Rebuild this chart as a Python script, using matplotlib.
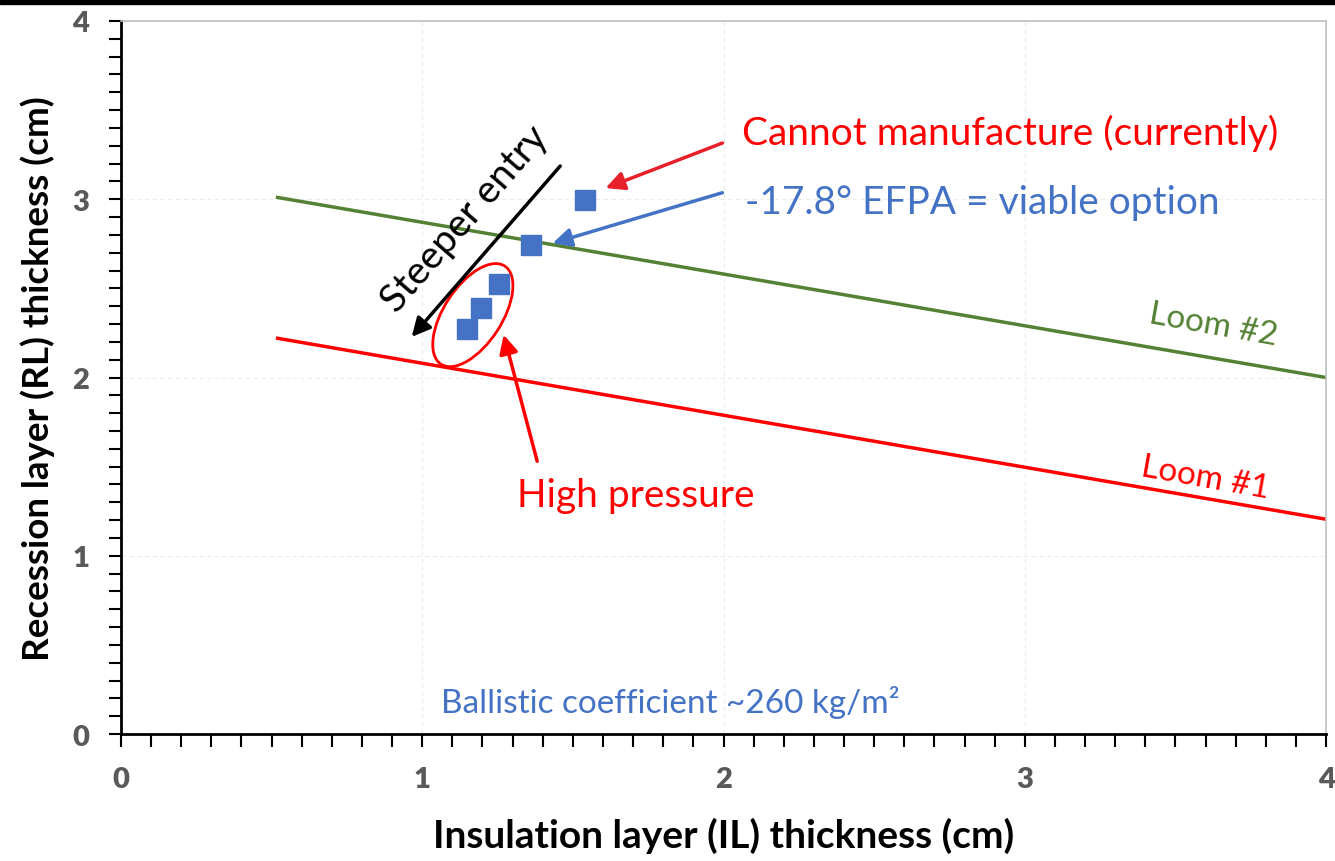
import matplotlib
matplotlib.use("Agg")
import matplotlib.pyplot as plt
from matplotlib.patches import Ellipse, Rectangle
from matplotlib.transforms import ScaledTranslation
from matplotlib.ticker import MultipleLocator

plt.rcParams['font.family'] = ['Lato', 'DejaVu Sans']

# Design points (IL thickness, RL thickness)
il_pts = [1.54, 1.36, 1.255, 1.195, 1.147]
rl_pts = [2.995, 2.743, 2.525, 2.39, 2.272]

# Loom limits
loom_x = [0.52, 4.0]
loom1_y = [2.22, 1.205]
loom2_y = [3.01, 2.0]

BLUE = '#4472C4'
RED = '#FF0000'
GREEN = '#548235'

fig = plt.figure(figsize=(13.35, 8.62), dpi=100)
ax = fig.add_axes([0.0906, 0.1473, 0.9027, 0.8272])

ax.plot(loom_x, loom2_y, color=GREEN, lw=2.5)
ax.plot(loom_x, loom1_y, color=RED, lw=2.5)
ax.plot(il_pts, rl_pts, 's', color=BLUE, ms=15, mec=BLUE)

ax.set_xlim(0, 4)
ax.set_ylim(0, 4)
ax.xaxis.set_major_locator(MultipleLocator(1))
ax.yaxis.set_major_locator(MultipleLocator(1))
ax.xaxis.set_minor_locator(MultipleLocator(0.1))
ax.yaxis.set_minor_locator(MultipleLocator(0.1))
ax.tick_params(which='both', direction='out', length=9, width=1.5, color='black')
ax.tick_params(which='major', labelsize=21, labelcolor='#595959', pad=14)
for lab in ax.get_xticklabels() + ax.get_yticklabels():
    lab.set_fontweight('heavy')
ax.grid(True, which='major', color='#ececec', lw=0.8, ls=(0, (4, 3)))

for s in ['left', 'bottom']:
    ax.spines[s].set_linewidth(2)
    ax.spines[s].set_color('black')
for s in ['top', 'right']:
    ax.spines[s].set_linewidth(1.2)
    ax.spines[s].set_color('#bfbfbf')

ax.set_xlabel('Insulation layer (IL) thickness (cm)', fontsize=28, fontweight='bold', labelpad=18)
ax.set_ylabel('Recession layer (RL) thickness (cm)', fontsize=26.5, fontweight='bold', labelpad=12)

# annotations
ax.text(2.951, 3.377, 'Cannot manufacture (currently)', color=RED, fontsize=28,
        ha='center', va='center')
ax.annotate('', xy=(1.60, 3.057), xytext=(2.005, 3.321),
            arrowprops=dict(arrowstyle='-|>', color='#E8202A', lw=2.5, mutation_scale=28))
ax.text(2.071, 2.985, '-17.8° EFPA = viable option', color=BLUE, fontsize=28,
        ha='left', va='center')
ax.annotate('', xy=(1.424, 2.749), xytext=(2.005, 3.041),
            arrowprops=dict(arrowstyle='-|>', color=BLUE, lw=2.5, mutation_scale=28))
ax.text(1.14, 2.895, 'Steeper entry', color='black', fontsize=28, rotation=49,
        ha='center', va='center', rotation_mode='anchor')
ax.annotate('', xy=(0.959, 2.216), xytext=(1.464, 3.198),
            arrowprops=dict(arrowstyle='-|>', color='black', lw=2.5, mutation_scale=28))
ax.text(1.71, 1.341, 'High pressure', color=RED, fontsize=28, ha='center', va='center')
ax.annotate('', xy=(1.268, 2.255), xytext=(1.384, 1.515),
            arrowprops=dict(arrowstyle='-|>', color=RED, lw=2.5, mutation_scale=28))
ax.text(3.625, 2.30, 'Loom #2', color=GREEN, fontsize=24, rotation=-10,
        ha='center', va='center', rotation_mode='anchor')
ax.text(3.598, 1.442, 'Loom #1', color=RED, fontsize=24, rotation=-10,
        ha='center', va='center', rotation_mode='anchor')
ax.text(1.822, 0.185, 'Ballistic coefficient ~260 kg/m²', color=BLUE, fontsize=24,
        ha='center', va='center')

# ellipse around high pressure points (sized in inches)
ell_tr = fig.dpi_scale_trans + ScaledTranslation(1.168, 2.35, ax.transData)
ax.add_patch(Ellipse((0, 0), 1.17, 0.58, angle=57, fill=False, ec=RED, lw=2,
                     transform=ell_tr))

# black band along top edge
fig.add_artist(Rectangle((0, 1 - 5 / 862), 1, 5 / 862, transform=fig.transFigure,
                         color='black', zorder=10))

fig.savefig('out.png', dpi=100)
